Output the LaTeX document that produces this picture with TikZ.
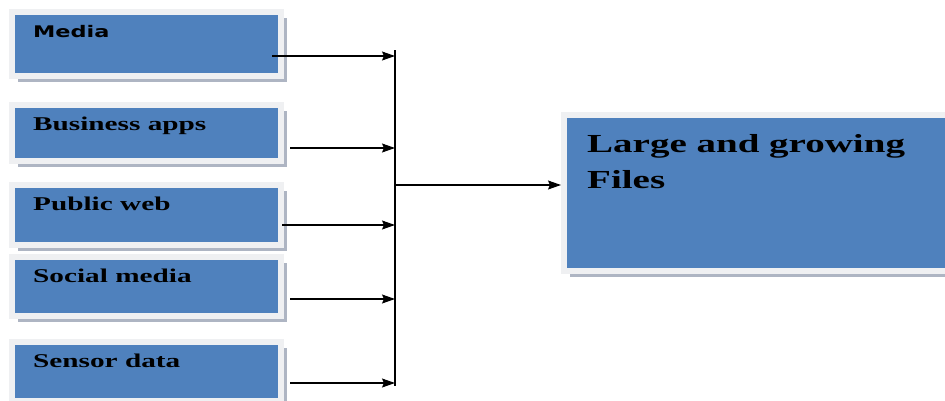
\documentclass[tikz,border=0pt]{standalone}
\usepackage{fontspec}
\setmainfont{Liberation Serif}
\newfontfamily\widerm[FakeStretch=1.5]{Liberation Serif}
\newfontfamily\widesf[FakeStretch=1.4]{DejaVu Sans}
\usetikzlibrary{arrows.meta, shadows}
\definecolor{boxblue}{HTML}{4F81BD}
\definecolor{framegray}{HTML}{EFF0F2}
\definecolor{edgegray}{HTML}{AEB5C3}
\tikzset{
	every source/.style={
		rectangle,
		draw=framegray,
		line width=6pt,
		fill=boxblue,
		minimum width=269pt,
		drop shadow={shadow xshift=6pt, shadow yshift=-6pt, fill=edgegray, opacity=1}
	},
	source title/.style={
		anchor=base west,
		inner sep=0pt,
		font=\widerm\bfseries\fontsize{19.5}{19.5}\selectfont
	},
	title 1/.style={
		font=\widesf\bfseries\fontsize{16}{16}\selectfont
	},
	feed/.style={
		-{Stealth[length=13pt, width=9pt, inset=2pt]},
		line width=1.1pt
	},
}

\begin{document}
\begin{tikzpicture}[x=1pt, y=-1pt]
\useasboundingbox (0,0) rectangle (945,400);

% sources on the left
\foreach \t/\yc/\h/\xa/\ya [count=\i] in {Media/44/64/272/56, Business apps/133/56/290/148, Public web/215/60/282/225, Social media/286.5/59/290/299, Sensor data/371.5/59/290/383}
{
	\node [every source/.try, minimum height=\h pt] (src-\i) at (146.5,\yc) {};
	\node [source title, title \i/.try] (title-\i) at ([xshift=24pt,yshift=-28pt]src-\i.north west) {\t};
	\coordinate (out-\i) at (\xa,\ya);
}

% target box
\node [every source/.try, minimum width=386pt, minimum height=156pt] (files) at (757,193) {};
\node [anchor=north west, inner sep=0pt, align=left, font=\widerm\bfseries\fontsize{26}{35.5}\selectfont] (files-title) at (587,134.5) {Large and growing\\Files};

% collecting bar
\coordinate (bus-top) at (395,50);
\coordinate (bus-bot) at (395,386);
\coordinate (bus-out) at (395,185);
\draw [line width=1.5pt] (bus-top) -- (bus-bot);

\foreach \i in {1,...,5}
	\draw [feed] (out-\i) -- (out-\i -| bus-top);

\draw [feed] (bus-out) -- (bus-out -| files.west);

\end{tikzpicture}
\end{document}
